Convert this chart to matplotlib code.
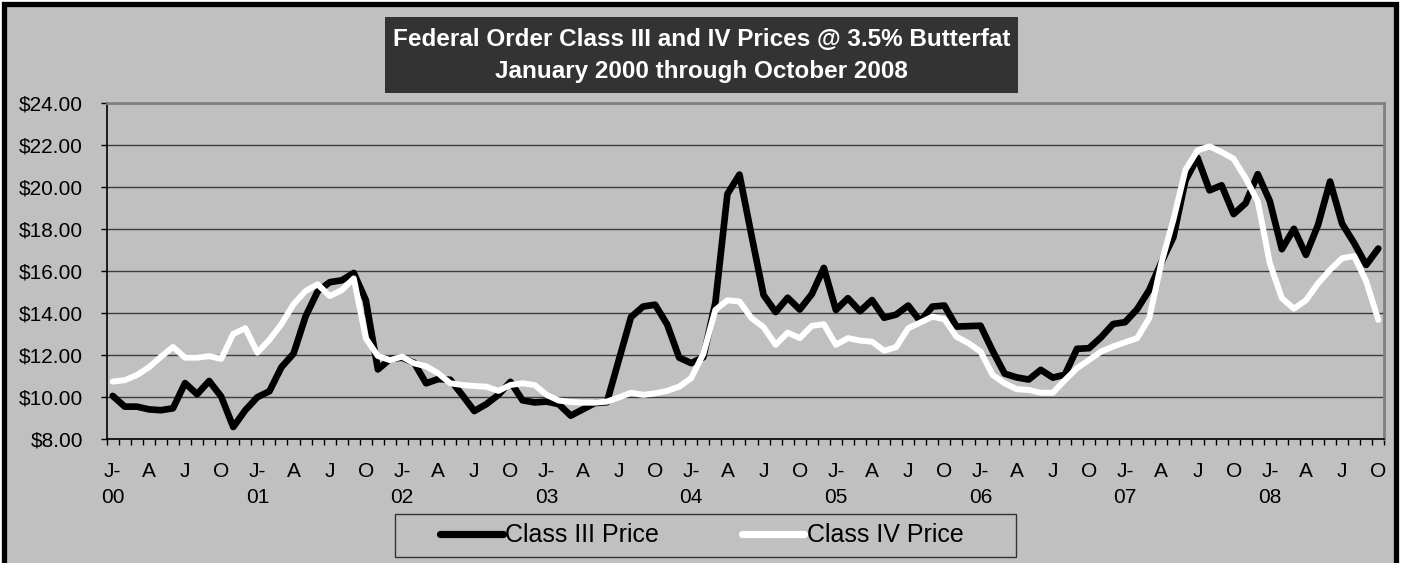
import matplotlib
matplotlib.use("Agg")
import matplotlib.pyplot as plt
from matplotlib.patches import Rectangle
from matplotlib.ticker import FixedLocator, FuncFormatter

plt.rcParams['font.family'] = ['Liberation Sans', 'DejaVu Sans']

# ---- data (Jan 2000 .. Oct 2008, monthly, $/cwt) ----
years = ["00", "01", "02", "03", "04", "05", "06", "07", "08"]
month_letters = ["J", "F", "M", "A", "M", "J", "J", "A", "S", "O", "N", "D"]

class_iii = [
    10.05, 9.54, 9.54, 9.41, 9.37, 9.46, 10.66, 10.13, 10.76, 10.02, 8.57, 9.37,      # 2000
    9.99, 10.27, 11.42, 12.06, 13.83, 15.02, 15.46, 15.55, 15.90, 14.60, 11.31, 11.80, # 2001
    11.87, 11.63, 10.65, 10.85, 10.82, 10.09, 9.33, 9.66, 10.10, 10.72, 9.84, 9.74,    # 2002
    9.78, 9.66, 9.11, 9.41, 9.71, 9.75, 11.78, 13.80, 14.30, 14.39, 13.45, 11.87,      # 2003
    11.61, 11.89, 14.49, 19.66, 20.58, 17.68, 14.85, 14.04, 14.72, 14.16, 14.89, 16.14, # 2004
    14.14, 14.70, 14.08, 14.61, 13.77, 13.92, 14.35, 13.60, 14.30, 14.35, 13.35, 13.37, # 2005
    13.39, 12.20, 11.11, 10.93, 10.83, 11.29, 10.92, 11.06, 12.29, 12.32, 12.84, 13.47, # 2006
    13.56, 14.18, 15.09, 16.40, 17.60, 20.30, 21.38, 19.83, 20.07, 18.70, 19.22, 20.60, # 2007
    19.32, 17.03, 18.00, 16.76, 18.18, 20.25, 18.24, 17.32, 16.28, 17.06,              # 2008
]

class_iv = [
    10.73, 10.80, 11.04, 11.41, 11.91, 12.38, 11.87, 11.87, 11.94, 11.81, 13.00, 13.27, # 2000
    12.11, 12.72, 13.47, 14.41, 15.04, 15.36, 14.80, 15.08, 15.64, 12.79, 11.95, 11.75, # 2001
    11.92, 11.60, 11.46, 11.13, 10.65, 10.57, 10.52, 10.49, 10.29, 10.57, 10.65, 10.57, # 2002
    10.10, 9.83, 9.76, 9.73, 9.73, 9.78, 9.98, 10.20, 10.10, 10.17, 10.29, 10.49,       # 2003
    10.90, 12.05, 14.14, 14.60, 14.54, 13.75, 13.32, 12.48, 13.06, 12.80, 13.38, 13.46, # 2004
    12.48, 12.80, 12.68, 12.63, 12.20, 12.37, 13.27, 13.54, 13.82, 13.70, 12.87, 12.56, # 2005
    12.16, 11.05, 10.65, 10.37, 10.33, 10.20, 10.20, 10.80, 11.37, 11.76, 12.16, 12.40, # 2006
    12.60, 12.80, 13.75, 16.37, 18.43, 20.80, 21.73, 21.92, 21.65, 21.33, 20.40, 19.30, # 2007
    16.37, 14.70, 14.20, 14.60, 15.40, 16.05, 16.60, 16.70, 15.50, 13.67,              # 2008
]

series_names = ["Class III Price", "Class IV Price"]
title_lines = ["Federal Order Class III and IV Prices @ 3.5% Butterfat",
               "January 2000 through October 2008"]
y_ticks = [8, 10, 12, 14, 16, 18, 20, 22, 24]

# ---- figure ----
W, H = 1403, 563
fig = plt.figure(figsize=(W / 100, H / 100), dpi=100, facecolor="white")

# chart area with black frame (bottom edge runs off the image)
fig.patches.append(Rectangle((3.5 / W, -0.1), (1395.5 - 3.5) / W, (1 - 4.5 / H) + 0.1,
                             transform=fig.transFigure, facecolor="#C0C0C0",
                             edgecolor="black", lw=3.8, zorder=-10))
# legend box
fig.patches.append(Rectangle((395 / W, 1 - 557 / H), (1016 - 395) / W, (557 - 514) / H,
                             transform=fig.transFigure, facecolor="#C0C0C0",
                             edgecolor="#333333", lw=1.0, zorder=-5))
# title box
fig.patches.append(Rectangle((385 / W, 1 - 93 / H), (1018 - 385) / W, (93 - 17) / H,
                             transform=fig.transFigure, facecolor="#333333",
                             edgecolor="none", zorder=-5))

ax = fig.add_axes([106.7 / W, 1 - 439 / H, (1384.3 - 106.7) / W, (439 - 102.7) / H])
ax.set_zorder(1)
ax.set_facecolor("#C0C0C0")

n = len(class_iii)
x = list(range(n))
ax.plot(x, class_iii, color="black", lw=4.8, solid_joinstyle="round",
        solid_capstyle="round", zorder=3, label=series_names[0])
ax.plot(x, class_iv, color="white", lw=4.3, solid_joinstyle="round",
        solid_capstyle="round", zorder=4, label=series_names[1])

ax.set_xlim(-0.5, n - 0.5)
ax.set_ylim(y_ticks[0], y_ticks[-1])

# y axis
ax.set_yticks(y_ticks)
ax.yaxis.set_major_formatter(FuncFormatter(lambda v, p: f"${v:.2f}"))
ax.tick_params(axis="y", direction="out", length=4.6, width=1, color="black",
               labelsize=15, pad=12.5, labelcolor="black")
ax.yaxis.grid(True, color="#3c3c3c", lw=1.0)
ax.set_axisbelow(True)

# x axis: labels every 3 months, tick marks between categories
label_pos = list(range(0, n, 3))
labels = []
for i in label_pos:
    m = i % 12
    if m == 0:
        labels.append(month_letters[m] + "-\n" + years[i // 12])
    else:
        labels.append(month_letters[m])
ax.set_xticks(label_pos)
ax.set_xticklabels(labels, linespacing=1.5)
ax.xaxis.set_minor_locator(FixedLocator([i - 0.5 for i in range(n + 1)]))
ax.tick_params(axis="x", which="major", length=0, labelsize=15, pad=16.5)
ax.tick_params(axis="x", which="minor", direction="out", length=4.6, width=1, color="black")

for s in ["left", "bottom"]:
    ax.spines[s].set_color("black")
    ax.spines[s].set_linewidth(1.2)
for s in ["top", "right"]:
    ax.spines[s].set_color("#808080")
    ax.spines[s].set_linewidth(2.0)

# title text
fig.text(701.5 / W, 1 - 46 / H, title_lines[0], ha="center", va="baseline",
         color="white", fontweight="bold", fontsize=17.5, zorder=2)
fig.text(701.5 / W, 1 - 78 / H, title_lines[1], ha="center", va="baseline",
         color="white", fontweight="bold", fontsize=17.5, zorder=2)

# legend
leg = ax.legend(loc="center", bbox_to_anchor=(702 / W, 1 - 535.5 / H),
                bbox_transform=fig.transFigure, frameon=False, ncol=2,
                fontsize=18, handlelength=2.5, handletextpad=0.1,
                columnspacing=3.3)
for line in leg.get_lines():
    line.set_linewidth(5.2)
    line.set_solid_capstyle("round")

fig.savefig("out.png", dpi=100, facecolor="white")
